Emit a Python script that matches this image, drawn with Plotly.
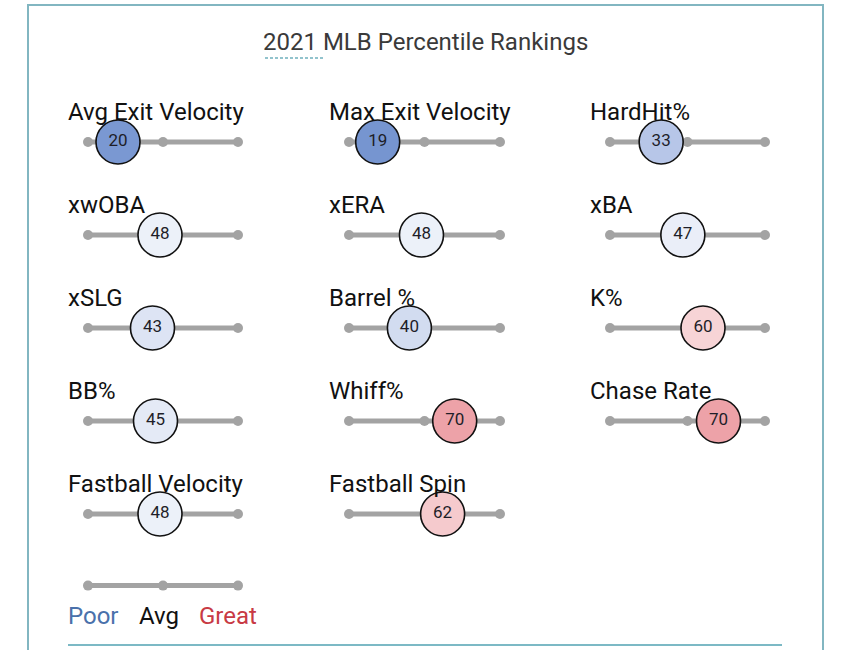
import plotly.graph_objects as go

# ---------------- data ----------------
title_text = "2021 MLB Percentile Rankings"
col1_metrics = ["Avg Exit Velocity", "xwOBA", "xSLG", "BB%", "Fastball Velocity"]
col1_values = [20, 48, 43, 45, 48]
col2_metrics = ["Max Exit Velocity", "xERA", "Barrel %", "Whiff%", "Fastball Spin"]
col2_values = [19, 48, 40, 70, 62]
col3_metrics = ["HardHit%", "xBA", "K%", "Chase Rate"]
col3_values = [33, 47, 60, 70]
track_ticks = [0, 50, 100]
legend_labels = ["Poor", "Avg", "Great"]

# ---------------- layout constants ----------------
W, H = 850, 650
col_px = [(88, 238), (349, 500), (610, 765)]  # track pixel spans
row0_px, row_step = 142, 93                    # first track y and spacing
legend_row = 4.77
TRACK = "#a3a3a3"
TEAL = "#82b6c1"

colorscale = [
    [0.0, "rgb(45,85,175)"],
    [0.2, "rgb(122,152,210)"],
    [0.33, "rgb(183,198,232)"],
    [0.40, "rgb(210,220,240)"],
    [0.45, "rgb(228,234,246)"],
    [0.5, "rgb(242,245,251)"],
    [0.6, "rgb(247,212,214)"],
    [0.62, "rgb(245,202,205)"],
    [0.7, "rgb(237,162,168)"],
    [1.0, "rgb(200,40,50)"],
]

fig = go.Figure()

columns = [(col1_metrics, col1_values), (col2_metrics, col2_values), (col3_metrics, col3_values)]
axis_names = ["x", "x2", "x3"]

for ci, ((metrics, values), xa) in enumerate(zip(columns, axis_names)):
    for ri, (m, v) in enumerate(zip(metrics, values)):
        # track
        fig.add_trace(go.Scatter(
            x=track_ticks, y=[ri] * len(track_ticks), xaxis=xa, yaxis="y",
            mode="lines+markers", line=dict(color=TRACK, width=5),
            marker=dict(color=TRACK, size=10), hoverinfo="skip",
            showlegend=False, cliponaxis=False))
        # circle
        fig.add_trace(go.Scatter(
            x=[v], y=[ri], xaxis=xa, yaxis="y",
            mode="markers+text", text=[str(v)], textposition="middle center",
            textfont=dict(family="Roboto", size=17, color="#1e1e28"),
            marker=dict(size=44, color=[v], colorscale=colorscale, cmin=0, cmax=100,
                        line=dict(color="#111111", width=1.6)),
            hoverinfo="skip", showlegend=False, cliponaxis=False))
        # label
        fig.add_annotation(x=0, y=ri, xref=xa, yref="y", text=m, showarrow=False,
                           xanchor="left", yanchor="middle", xshift=-22, yshift=30,
                           font=dict(family="Roboto", size=24, color="#111111"))

# legend track
fig.add_trace(go.Scatter(
    x=track_ticks, y=[legend_row] * len(track_ticks), xaxis="x", yaxis="y",
    mode="lines+markers", line=dict(color=TRACK, width=5),
    marker=dict(color=TRACK, size=10), hoverinfo="skip",
    showlegend=False, cliponaxis=False))
leg_colors = ["#4a71ab", "#111111", "#c83a44"]
leg_pos = [(0, "left", -22), (50, "center", -4), (100, "right", 21)]
for lab, col, (lx, anc, sh) in zip(legend_labels, leg_colors, leg_pos):
    fig.add_annotation(x=lx, y=legend_row, xref="x", yref="y", text=lab, showarrow=False,
                       xanchor=anc, yanchor="middle", xshift=sh, yshift=-30,
                       font=dict(family="Roboto", size=24, color=col))

# title
fig.add_annotation(x=0.5, y=1 - 42 / H, xref="paper", yref="paper", text=title_text,
                   showarrow=False, xanchor="center", yanchor="middle",
                   font=dict(family="Roboto", size=24, color="#3a3a3a"))

# decorations
shapes = [
    dict(type="rect", xref="paper", yref="paper", x0=28 / W, x1=823 / W,
         y0=-0.2, y1=1 - 5 / H, line=dict(color=TEAL, width=2), layer="below"),
    dict(type="line", xref="paper", yref="paper", x0=265 / W, x1=325 / W,
         y0=1 - 58 / H, y1=1 - 58 / H, line=dict(color="#6fb0bd", width=1.5, dash="3px,2px")),
    dict(type="line", xref="paper", yref="paper", x0=68 / W, x1=782 / W,
         y0=1 - 645 / H, y1=1 - 645 / H, line=dict(color="#7cb9c5", width=2)),
]

y_top = -row0_px / row_step
y_bot = (H - row0_px) / row_step

layout_axes = {}
for xa, (a, b) in zip(["xaxis", "xaxis2", "xaxis3"], col_px):
    layout_axes[xa] = dict(domain=[a / W, b / W], range=[0, 100], visible=False,
                           fixedrange=True, anchor="y")

fig.update_layout(
    width=W, height=H, margin=dict(l=0, r=0, t=0, b=0),
    paper_bgcolor="white", plot_bgcolor="rgba(0,0,0,0)",
    yaxis=dict(domain=[0, 1], range=[y_bot, y_top], visible=False, fixedrange=True),
    shapes=shapes, showlegend=False,
    **layout_axes,
)

fig.write_html("out.html")
